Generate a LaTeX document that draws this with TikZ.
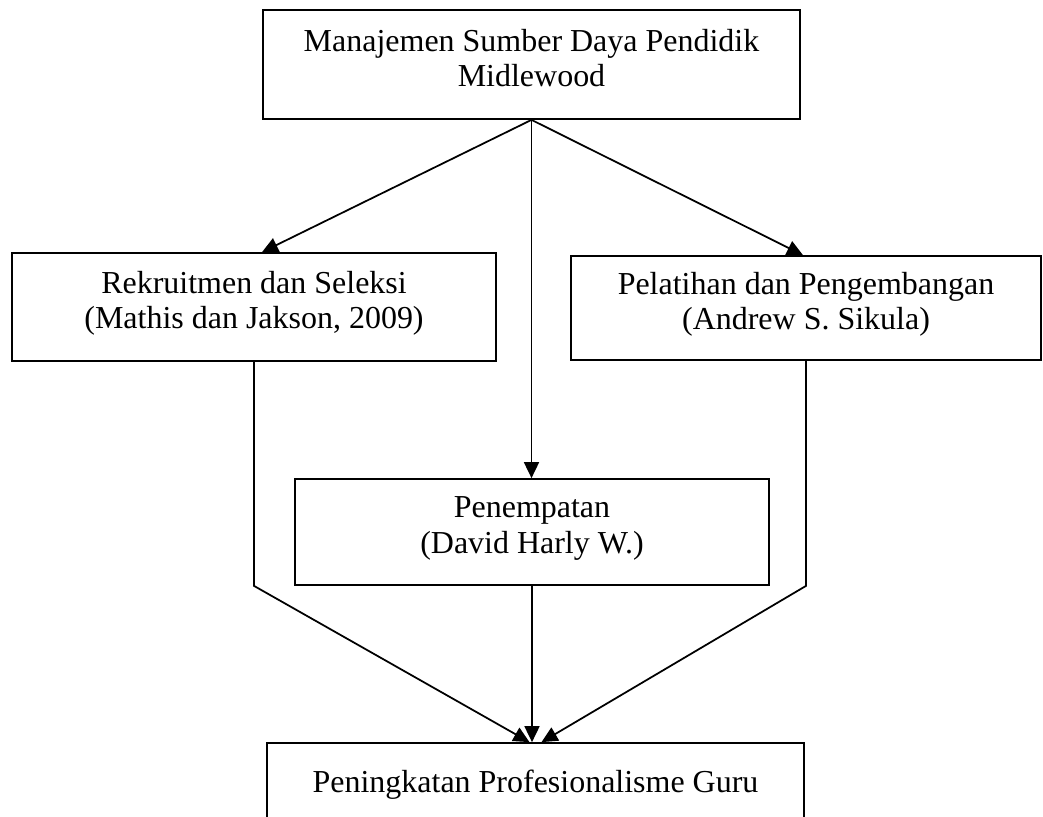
\documentclass[tikz,border=0pt]{standalone}
\usepackage{fontspec}
\setmainfont{Liberation Serif}
\usepackage{tikz}
\usetikzlibrary{calc,arrows.meta}

\begin{document}
\begin{tikzpicture}[x=0.02cm,y=-0.02cm,line width=1pt,
  box/.style={draw,rectangle,inner sep=0,align=center,
    font=\fontsize{18.2pt}{20pt}\selectfont},
  arr/.style={-{Triangle[length=0.32cm,width=0.3cm]}}]

\clip (0,0) rectangle (1043,816);

\node [box,minimum width=10.74cm,minimum height=2.18cm,text depth=0.28cm] (top) at (531.5,64.5)
  {Manajemen Sumber Daya Pendidik\\Midlewood};

\node [box,minimum width=9.68cm,minimum height=2.16cm,text depth=0.3cm] (left) at (254,307)
  {Rekruitmen dan Seleksi\\(Mathis dan Jakson, 2009)};

\node [box,minimum width=9.40cm,minimum height=2.08cm,text depth=0.3cm] (right) at (806,308)
  {Pelatihan dan Pengembangan\\(Andrew S. Sikula)};

\node [box,minimum width=9.48cm,minimum height=2.12cm,text depth=0.28cm] (mid) at (532,532)
  {Penempatan\\(David Harly W.)};

\node [box,minimum width=10.74cm,minimum height=1.68cm] (bot) at (535.5,785)
  {Peningkatan Profesionalisme Guru};

\draw [arr] (top.south) -- ([xshift=0.16cm]left.north);

\draw [arr] (top.south) -- ([xshift=-0.06cm]right.north);

\draw [arr] (top.south) -- (top.south |- mid.north);

\draw [arr] (left.south) -- (left.south |- mid.south) -- ([xshift=-0.12cm]bot.north);

\draw [arr] (right.south) -- (right.south |- mid.south) -- ([xshift=0.12cm]bot.north);

\draw [arr] (mid.south) -- (mid.south |- bot.north);

\end{tikzpicture}
\end{document}
